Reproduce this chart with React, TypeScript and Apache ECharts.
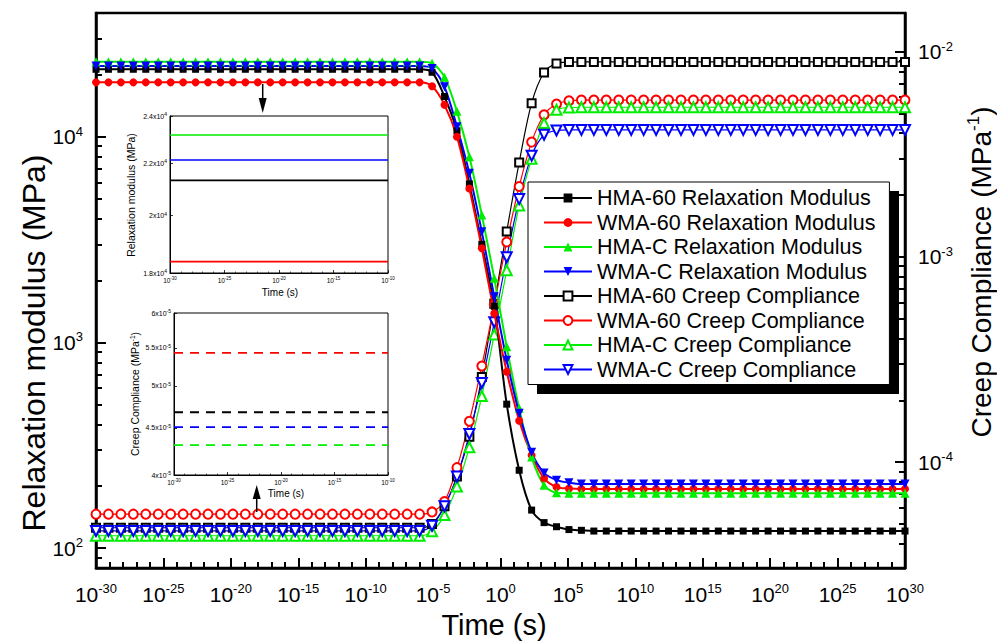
import React, { useEffect, useRef } from 'react';
import * as echarts from 'echarts';

// time grid: exponents of 10 (s)
const timeExponents = [
  -30, -29.077, -28.154, -27.231, -26.308, -25.385, -24.462, -23.538, -22.615, -21.692,
  -20.769, -19.846, -18.923, -18.0, -17.077, -16.154, -15.231, -14.308, -13.385, -12.462,
  -11.538, -10.615, -9.692, -8.769, -7.846, -6.923, -6.0, -5.077, -4.154, -3.231,
  -2.308, -1.385, -0.462, 0.462, 1.385, 2.308, 3.231, 4.154, 5.077, 6.0,
  6.923, 7.846, 8.769, 9.692, 10.615, 11.538, 12.462, 13.385, 14.308, 15.231,
  16.154, 17.077, 18.0, 18.923, 19.846, 20.769, 21.692, 22.615, 23.538, 24.462,
  25.385, 26.308, 27.231, 28.154, 29.077, 30,
];

const hma60Modulus = [
  21300, 21300, 21300, 21300, 21300, 21300, 21300, 21300, 21300,
  21300, 21300, 21300, 21300, 21300, 21300, 21300, 21300, 21300,
  21300, 21300, 21300, 21300, 21300, 21300, 21300, 21300, 21300,
  20600, 15700, 10700, 5900, 3000, 1500, 501, 239, 153, 133, 127, 123, 122, 121,
  121, 121, 121, 121, 121, 121, 121, 121, 121, 121, 121, 121, 121,
  121, 121, 121, 121, 121, 121, 121, 121, 121, 121, 121, 121,
];
const wma60Modulus = [
  18400, 18400, 18400, 18400, 18400, 18400, 18400, 18400, 18400,
  18400, 18400, 18400, 18400, 18400, 18400, 18400, 18400, 18400,
  18400, 18400, 18400, 18400, 18400, 18400, 18400, 18400, 18400,
  17600, 14300, 10000, 5610, 2870, 1384, 720, 416, 283, 218, 198, 195, 194, 194,
  194, 194, 194, 194, 194, 194, 194, 194, 194, 194, 194, 194, 194,
  194, 194, 194, 194, 194, 194, 194, 194, 194, 194, 194, 194,
];
const hmaCModulus = [
  23200, 23200, 23200, 23200, 23200, 23200, 23200, 23200, 23200,
  23200, 23200, 23200, 23200, 23200, 23200, 23200, 23200, 23200,
  23200, 23200, 23200, 23200, 23200, 23200, 23200, 23200, 23200,
  22800, 19500, 13300, 8000, 4165, 2050, 952, 478, 277, 202, 186, 185, 185, 185,
  185, 185, 185, 185, 185, 185, 185, 185, 185, 185, 185, 185, 185,
  185, 185, 185, 185, 185, 185, 185, 185, 185, 185, 185, 185,
];
const wmaCModulus = [
  22100, 22100, 22100, 22100, 22100, 22100, 22100, 22100, 22100,
  22100, 22100, 22100, 22100, 22100, 22100, 22100, 22100, 22100,
  22100, 22100, 22100, 22100, 22100, 22100, 22100, 22100, 22100,
  21500, 17500, 11190, 6640, 3450, 1667, 820, 452, 292, 232, 214, 208, 205, 205,
  205, 205, 205, 205, 205, 205, 205, 205, 205, 205, 205, 205, 205,
  205, 205, 205, 205, 205, 205, 205, 205, 205, 205, 205, 205,
];

const hma60Compliance = [
  4.79e-5, 4.79e-5, 4.79e-5, 4.79e-5, 4.79e-5, 4.79e-5, 4.79e-5, 4.79e-5, 4.79e-5,
  4.79e-5, 4.79e-5, 4.79e-5, 4.79e-5, 4.79e-5, 4.79e-5, 4.79e-5, 4.79e-5, 4.79e-5,
  4.79e-5, 4.79e-5, 4.79e-5, 4.79e-5, 4.79e-5, 4.79e-5, 4.79e-5, 4.79e-5, 4.79e-5,
  5.0e-5, 6.1e-5, 8.5e-5, 1.33e-4, 2.6e-4, 5.9e-4, 1.33e-3, 2.88e-3, 5.6e-3, 7.9e-3, 8.75e-3, 8.88e-3, 8.9e-3, 8.9e-3,
  8.9e-3, 8.9e-3, 8.9e-3, 8.9e-3, 8.9e-3, 8.9e-3, 8.9e-3, 8.9e-3, 8.9e-3, 8.9e-3, 8.9e-3, 8.9e-3, 8.9e-3,
  8.9e-3, 8.9e-3, 8.9e-3, 8.9e-3, 8.9e-3, 8.9e-3, 8.9e-3, 8.9e-3, 8.9e-3, 8.9e-3, 8.9e-3, 8.9e-3,
];
const wma60Compliance = [
  5.58e-5, 5.58e-5, 5.58e-5, 5.58e-5, 5.58e-5, 5.58e-5, 5.58e-5, 5.58e-5, 5.58e-5,
  5.58e-5, 5.58e-5, 5.58e-5, 5.58e-5, 5.58e-5, 5.58e-5, 5.58e-5, 5.58e-5, 5.58e-5,
  5.58e-5, 5.58e-5, 5.58e-5, 5.58e-5, 5.58e-5, 5.58e-5, 5.58e-5, 5.58e-5, 5.58e-5,
  5.72e-5, 6.42e-5, 9.4e-5, 1.58e-4, 2.94e-4, 5.85e-4, 1.18e-3, 2.2e-3, 3.62e-3, 4.92e-3, 5.55e-3, 5.75e-3, 5.8e-3, 5.8e-3,
  5.8e-3, 5.8e-3, 5.8e-3, 5.8e-3, 5.8e-3, 5.8e-3, 5.8e-3, 5.8e-3, 5.8e-3, 5.8e-3, 5.8e-3, 5.8e-3, 5.8e-3,
  5.8e-3, 5.8e-3, 5.8e-3, 5.8e-3, 5.8e-3, 5.8e-3, 5.8e-3, 5.8e-3, 5.8e-3, 5.8e-3, 5.8e-3, 5.8e-3,
];
const hmaCCompliance = [
  4.38e-5, 4.38e-5, 4.38e-5, 4.38e-5, 4.38e-5, 4.38e-5, 4.38e-5, 4.38e-5, 4.38e-5,
  4.38e-5, 4.38e-5, 4.38e-5, 4.38e-5, 4.38e-5, 4.38e-5, 4.38e-5, 4.38e-5, 4.38e-5,
  4.38e-5, 4.38e-5, 4.38e-5, 4.38e-5, 4.38e-5, 4.38e-5, 4.38e-5, 4.38e-5, 4.38e-5,
  4.6e-5, 5.52e-5, 7.6e-5, 1.18e-4, 2.1e-4, 4.18e-4, 8.6e-4, 1.78e-3, 3.0e-3, 4.48e-3, 5.2e-3, 5.33e-3, 5.35e-3, 5.35e-3,
  5.35e-3, 5.35e-3, 5.35e-3, 5.35e-3, 5.35e-3, 5.35e-3, 5.35e-3, 5.35e-3, 5.35e-3, 5.35e-3, 5.35e-3, 5.35e-3, 5.35e-3,
  5.35e-3, 5.35e-3, 5.35e-3, 5.35e-3, 5.35e-3, 5.35e-3, 5.35e-3, 5.35e-3, 5.35e-3, 5.35e-3, 5.35e-3, 5.35e-3,
];
const wmaCCompliance = [
  4.62e-5, 4.62e-5, 4.62e-5, 4.62e-5, 4.62e-5, 4.62e-5, 4.62e-5, 4.62e-5, 4.62e-5,
  4.62e-5, 4.62e-5, 4.62e-5, 4.62e-5, 4.62e-5, 4.62e-5, 4.62e-5, 4.62e-5, 4.62e-5,
  4.62e-5, 4.62e-5, 4.62e-5, 4.62e-5, 4.62e-5, 4.62e-5, 4.62e-5, 4.62e-5, 4.62e-5,
  4.9e-5, 6.1e-5, 8.5e-5, 1.37e-4, 2.43e-4, 4.8e-4, 9.95e-4, 1.91e-3, 3.11e-3, 3.93e-3, 4.12e-3, 4.15e-3, 4.15e-3, 4.15e-3,
  4.15e-3, 4.15e-3, 4.15e-3, 4.15e-3, 4.15e-3, 4.15e-3, 4.15e-3, 4.15e-3, 4.15e-3, 4.15e-3, 4.15e-3, 4.15e-3, 4.15e-3,
  4.15e-3, 4.15e-3, 4.15e-3, 4.15e-3, 4.15e-3, 4.15e-3, 4.15e-3, 4.15e-3, 4.15e-3, 4.15e-3, 4.15e-3, 4.15e-3,
];

// insets: plateau values [HMA-60, WMA-60, HMA-C, WMA-C]
const insetTimeRange = [-30, -10];
const insetModulus = [21330, 18380, 23180, 22140];
const insetCompliance = [4.68e-5, 5.43e-5, 4.31e-5, 4.51e-5];

// ticks
const leftMajorTicks = [100, 1000, 10000];
const leftMinorTicks = [90, 200, 300, 400, 500, 600, 700, 800, 900, 2000, 3000, 4000, 5000, 6000, 7000, 8000, 9000, 20000, 30000];
const rightMajorTicks = [1e-4, 1e-3, 1e-2];
const rightMinorTicks = [4e-5, 5e-5, 6e-5, 7e-5, 8e-5, 9e-5, 2e-4, 3e-4, 4e-4, 5e-4, 6e-4, 7e-4, 8e-4, 9e-4, 2e-3, 3e-3, 4e-3, 5e-3, 6e-3, 7e-3, 8e-3, 9e-3];
const inset1Ticks = [18000, 20000, 22000, 24000];
const inset2Ticks = [4e-5, 4.5e-5, 5e-5, 5.5e-5, 6e-5];

const names = [
  'HMA-60 Relaxation Modulus',
  'WMA-60 Relaxation Modulus',
  'HMA-C Relaxation Modulus',
  'WMA-C Relaxation Modulus',
  'HMA-60 Creep Compliance',
  'WMA-60 Creep Compliance',
  'HMA-C Creep Compliance',
  'WMA-C Creep Compliance',
];
const colors = ['#000000', '#ff0000', '#00ee00', '#0000ff'];

const FONT = 'Liberation Sans';

const powLabel = (e: number) => `{a|10}{b|${e}}`;
const sciLabel = (v: number) => {
  const e = Math.floor(Math.log10(v) + 1e-9);
  const m = +(v / Math.pow(10, e)).toFixed(1);
  return `{a|${m}x10}{b|${e}}`;
};

const bigRich = {
  a: { fontSize: 21, lineHeight: 24, color: '#000', fontFamily: FONT },
  b: { fontSize: 13, lineHeight: 10, verticalAlign: 'top', color: '#000', fontFamily: FONT },
};
const smallRich = {
  a: { fontSize: 6.5, lineHeight: 8, color: '#000', fontFamily: FONT },
  b: { fontSize: 4.5, lineHeight: 4, verticalAlign: 'top', color: '#000', fontFamily: FONT },
};
const smallYRich = {
  a: { fontSize: 7, lineHeight: 9, color: '#000', fontFamily: FONT },
  b: { fontSize: 5, lineHeight: 4, verticalAlign: 'top', color: '#000', fontFamily: FONT },
};

function buildOption() {
  const pair = (vals: number[]) => timeExponents.map((t, i) => [t, vals[i]]);
  const relax = [hma60Modulus, wma60Modulus, hmaCModulus, wmaCModulus];
  const creep = [hma60Compliance, wma60Compliance, hmaCCompliance, wmaCCompliance];
  const filledSym = ['rect', 'circle', 'triangle', 'triangle'];
  const emptySym = ['emptyRect', 'emptyCircle', 'emptyTriangle', 'emptyTriangle'];
  const symSize = [7, 8, 9, 9];
  const rot = [0, 0, 0, 180];

  const series: any[] = [];
  creep.forEach((vals, i) => {
    series.push({
      name: names[4 + i],
      type: 'line',
      xAxisIndex: 0,
      yAxisIndex: 1,
      data: pair(vals),
      smooth: 0.3,
      symbol: emptySym[i],
      symbolSize: symSize[i] + 1,
      symbolRotate: rot[i],
      showAllSymbol: true,
      lineStyle: { color: colors[i], width: 1.2 },
      itemStyle: { color: colors[i], borderColor: colors[i], borderWidth: 1 },
      z: 2,
    });
  });
  relax.forEach((vals, i) => {
    series.push({
      name: names[i],
      type: 'line',
      xAxisIndex: 0,
      yAxisIndex: 0,
      data: pair(vals),
      smooth: 0.3,
      symbol: filledSym[i],
      symbolSize: symSize[i],
      symbolRotate: rot[i],
      showAllSymbol: true,
      lineStyle: { color: colors[i], width: 2 },
      itemStyle: { color: colors[i] },
      z: 3,
    });
  });
  insetModulus.forEach((v, i) => {
    series.push({
      name: 'inset-modulus-' + i,
      type: 'line',
      xAxisIndex: 1,
      yAxisIndex: 4,
      data: insetTimeRange.map((t) => [t, v]),
      symbol: 'none',
      lineStyle: { color: colors[i], width: 1.6 },
    });
  });
  insetCompliance.forEach((v, i) => {
    series.push({
      name: 'inset-compliance-' + i,
      type: 'line',
      xAxisIndex: 2,
      yAxisIndex: 5,
      data: insetTimeRange.map((t) => [t, v]),
      symbol: 'none',
      lineStyle: { color: colors[i], width: 1.8, type: [9, 7] },
    });
  });

  const insetXAxis = (gridIndex: number) => ({
    type: 'value',
    gridIndex,
    min: insetTimeRange[0],
    max: insetTimeRange[1],
    interval: 5,
    axisLine: { onZero: false, lineStyle: { color: '#000', width: 1 } },
    axisTick: { inside: true, length: 3, lineStyle: { color: '#000', width: 0.8 } },
    minorTick: { show: true, splitNumber: 5, length: 1.5, lineStyle: { color: '#000', width: 0.6 } },
    splitLine: { show: false },
    axisLabel: { margin: 3, formatter: (v: number) => powLabel(Math.round(v)), rich: smallRich },
  });

  return {
    animation: false,
    textStyle: { fontFamily: FONT },
    grid: [
      { left: 96, top: 13, width: 809, height: 555, show: true, borderColor: '#000', borderWidth: 2.5, backgroundColor: '#fff' },
      { left: 170, top: 116, width: 218, height: 157, show: true, borderColor: '#000', borderWidth: 1, backgroundColor: '#fff' },
      { left: 174, top: 313, width: 214, height: 162, show: true, borderColor: '#000', borderWidth: 1, backgroundColor: '#fff' },
    ],
    xAxis: [
      {
        type: 'value',
        gridIndex: 0,
        min: -30,
        max: 30,
        interval: 5,
        axisLine: { onZero: false, lineStyle: { color: '#000', width: 2.5 } },
        axisTick: { inside: true, length: 10, lineStyle: { color: '#000', width: 2 } },
        minorTick: { show: true, splitNumber: 5, length: 6, lineStyle: { color: '#000', width: 2 } },
        splitLine: { show: false },
        axisLabel: { margin: 14, formatter: (v: number) => powLabel(Math.round(v)), rich: bigRich },
      },
      insetXAxis(1),
      insetXAxis(2),
    ],
    yAxis: [
      {
        type: 'log',
        gridIndex: 0,
        position: 'left',
        min: 80,
        max: 40000,
        logBase: 10,
        axisLine: { show: true, onZero: false, lineStyle: { color: '#000', width: 2.5 } },
        axisTick: { inside: true, length: 10, customValues: leftMajorTicks, lineStyle: { color: '#000', width: 2 } },
        splitLine: { show: false },
        axisLabel: {
          margin: 13,
          customValues: leftMajorTicks,
          formatter: (v: number) => powLabel(Math.round(Math.log10(v))),
          rich: bigRich,
        },
      },
      {
        type: 'log',
        gridIndex: 0,
        position: 'right',
        min: 3.05e-5,
        max: 1.54e-2,
        logBase: 10,
        axisLine: { show: true, onZero: false, lineStyle: { color: '#000', width: 2.5 } },
        axisTick: { inside: true, length: 10, customValues: rightMajorTicks, lineStyle: { color: '#000', width: 2 } },
        splitLine: { show: false },
        axisLabel: {
          margin: 13,
          customValues: rightMajorTicks,
          formatter: (v: number) => powLabel(Math.round(Math.log10(v))),
          rich: bigRich,
        },
      },
      {
        type: 'log',
        gridIndex: 0,
        position: 'left',
        min: 80,
        max: 40000,
        logBase: 10,
        axisLine: { show: false, onZero: false },
        axisTick: { inside: true, length: 6, customValues: leftMinorTicks, lineStyle: { color: '#000', width: 2 } },
        splitLine: { show: false },
        axisLabel: { show: false },
      },
      {
        type: 'log',
        gridIndex: 0,
        position: 'right',
        min: 3.05e-5,
        max: 1.54e-2,
        logBase: 10,
        axisLine: { show: false, onZero: false },
        axisTick: { inside: true, length: 6, customValues: rightMinorTicks, lineStyle: { color: '#000', width: 2 } },
        splitLine: { show: false },
        axisLabel: { show: false },
      },
      {
        type: 'log',
        gridIndex: 1,
        min: 18000,
        max: 24000,
        logBase: 10,
        axisLine: { show: true, onZero: false, lineStyle: { color: '#000', width: 1 } },
        axisTick: { inside: true, length: 3, customValues: inset1Ticks, lineStyle: { color: '#000', width: 0.8 } },
        splitLine: { show: false },
        axisLabel: { margin: 3, customValues: inset1Ticks, formatter: sciLabel, rich: smallYRich },
      },
      {
        type: 'log',
        gridIndex: 2,
        min: 4e-5,
        max: 6e-5,
        logBase: 10,
        axisLine: { show: true, onZero: false, lineStyle: { color: '#000', width: 1 } },
        axisTick: { inside: true, length: 3, customValues: inset2Ticks, lineStyle: { color: '#000', width: 0.8 } },
        splitLine: { show: false },
        axisLabel: { margin: 3, customValues: inset2Ticks, formatter: sciLabel, rich: smallYRich },
      },
    ],
    legend: {
      data: names,
      orient: 'vertical',
      left: 528,
      top: 182,
      padding: [4, 14, 3, 15],
      itemGap: 0.5,
      itemWidth: 48,
      itemHeight: 11,
      backgroundColor: '#fff',
      borderColor: '#000',
      borderWidth: 1,
      z: 6,
      textStyle: { fontSize: 21.5, lineHeight: 24, color: '#000', fontFamily: FONT },
    },
    graphic: [
      { type: 'rect', z: 5, shape: { x: 537, y: 191, width: 362, height: 203 }, style: { fill: '#000' } },
      // arrow to inset 1
      { type: 'line', z: 5, shape: { x1: 262.7, y1: 84, x2: 262.7, y2: 100 }, style: { stroke: '#000', lineWidth: 1.5 } },
      { type: 'polygon', z: 5, shape: { points: [[258.7, 98], [266.7, 98], [262.7, 113]] }, style: { fill: '#000' } },
      // arrow to inset 2
      { type: 'line', z: 5, shape: { x1: 256.7, y1: 512, x2: 256.7, y2: 497 }, style: { stroke: '#000', lineWidth: 1.5 } },
      { type: 'polygon', z: 5, shape: { points: [[252.7, 499], [260.7, 499], [256.7, 485]] }, style: { fill: '#000' } },
      // titles
      {
        type: 'text', z: 5, x: 494, y: 625,
        style: { text: 'Time (s)', fontSize: 29, fontFamily: FONT, fill: '#000', align: 'center', verticalAlign: 'middle' },
      },
      {
        type: 'text', z: 5, x: 34, y: 343, rotation: Math.PI / 2,
        style: { text: 'Relaxation modulus (MPa)', fontSize: 32, fontFamily: FONT, fill: '#000', align: 'center', verticalAlign: 'middle' },
      },
      {
        type: 'text', z: 5, x: 981, y: 272, rotation: Math.PI / 2,
        style: {
          text: '{n|Creep Compliance (MPa}{s|-1}{n|)}',
          align: 'center', verticalAlign: 'middle',
          rich: {
            n: { fontSize: 28, lineHeight: 32, fontFamily: FONT, fill: '#000' },
            s: { fontSize: 17, lineHeight: 16, verticalAlign: 'top', fontFamily: FONT, fill: '#000' },
          },
        },
      },
      {
        type: 'text', z: 5, x: 131, y: 195, rotation: Math.PI / 2,
        style: { text: 'Relaxation modulus (MPa)', fontSize: 10.5, fontFamily: FONT, fill: '#000', align: 'center', verticalAlign: 'middle' },
      },
      {
        type: 'text', z: 5, x: 280, y: 292,
        style: { text: 'Time (s)', fontSize: 10, fontFamily: FONT, fill: '#000', align: 'center', verticalAlign: 'middle' },
      },
      {
        type: 'text', z: 5, x: 135, y: 394, rotation: Math.PI / 2,
        style: {
          text: '{n|Creep Compliance (MPa}{s|-1}{n|)}',
          align: 'center', verticalAlign: 'middle',
          rich: {
            n: { fontSize: 10.5, lineHeight: 12, fontFamily: FONT, fill: '#000' },
            s: { fontSize: 6.5, lineHeight: 6, verticalAlign: 'top', fontFamily: FONT, fill: '#000' },
          },
        },
      },
      {
        type: 'text', z: 5, x: 286, y: 493,
        style: { text: 'Time (s)', fontSize: 10, fontFamily: FONT, fill: '#000', align: 'center', verticalAlign: 'middle' },
      },
    ],
    series,
  };
}

export default function App() {
  const ref = useRef<HTMLDivElement>(null);
  useEffect(() => {
    if (!ref.current) return;
    const chart = echarts.init(ref.current, null, { renderer: 'svg' });
    chart.setOption(buildOption() as any);
    return () => chart.dispose();
  }, []);
  return <div ref={ref} style={{ position: 'absolute', left: 0, top: 0, width: 997, height: 642 }} />;
}
